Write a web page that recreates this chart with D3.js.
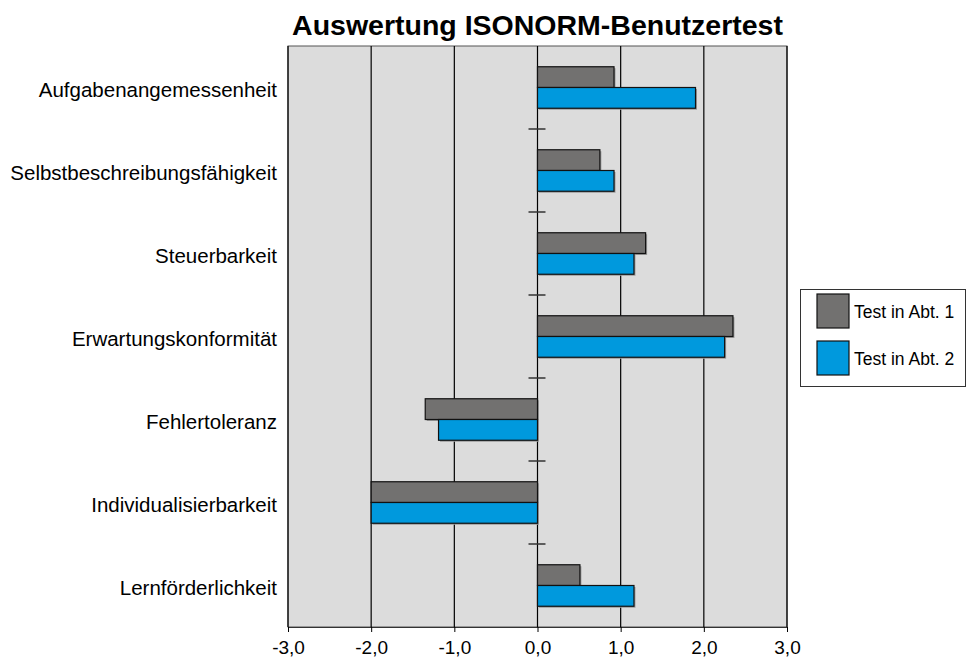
<!DOCTYPE html>
<html><head><meta charset="utf-8">
<script src="https://cdn.jsdelivr.net/npm/d3@7"></script>
<style>body{margin:0;background:#fff;}svg{display:block;font-family:"Liberation Sans",Arial,Helvetica,sans-serif;}</style>
</head><body>
<script>
const categories = ["Aufgabenangemessenheit","Selbstbeschreibungsfähigkeit","Steuerbarkeit","Erwartungskonformität","Fehlertoleranz","Individualisierbarkeit","Lernförderlichkeit"];
const seriesNames = ["Test in Abt. 1","Test in Abt. 2"];
const abt1 = [0.92, 0.75, 1.30, 2.35, -1.35, -2.00, 0.51];
const abt2 = [1.90, 0.92, 1.16, 2.25, -1.19, -2.00, 1.16];
const tickValues = [-3,-2,-1,0,1,2,3];
const colors = ["#727170","#0099dd"];

const W = 968, H = 660;
const m = {left:288, right:181, top:46, bottom:33};
const svg = d3.select("body").append("svg").attr("width",W).attr("height",H);

const x = d3.scaleLinear().domain([-3,3]).range([m.left, W-m.right]);
const y = d3.scaleBand().domain(categories).range([m.top, H-m.bottom]).paddingInner(0.5).paddingOuter(0.25);
const yRow = d3.scaleBand().domain(categories).range([m.top, H-m.bottom]);
const sub = d3.scaleBand().domain([0,1]).range([0, y.bandwidth()]);

// background
svg.append("rect").attr("x",x(-3)).attr("y",m.top).attr("width",x(3)-x(-3)).attr("height",H-m.bottom-m.top)
  .attr("fill","#dcdcdc").attr("stroke","#555").attr("stroke-width",1);

// grid
svg.append("g").selectAll("line").data(tickValues).join("line")
  .attr("x1",d=>x(d)).attr("x2",d=>x(d)).attr("y1",m.top).attr("y2",H-m.bottom)
  .attr("stroke","#000").attr("stroke-width",1.2);

// row separator ticks
svg.append("g").selectAll("line").data(categories.slice(1)).join("line")
  .attr("x1",x(0)-9).attr("x2",x(0)+8).attr("y1",d=>yRow(d)).attr("y2",d=>yRow(d))
  .attr("stroke","#333").attr("stroke-width",1.5);

const data = [];
categories.forEach((c,i)=>{ data.push({c, s:0, v:abt1[i]}); data.push({c, s:1, v:abt2[i]}); });

// shadows
svg.append("g").selectAll("rect").data(data).join("rect")
  .attr("x",d=>Math.min(x(0),x(d.v))+1.5).attr("y",d=>y(d.c)+sub(d.s)+1.5)
  .attr("width",d=>Math.abs(x(d.v)-x(0))).attr("height",sub.bandwidth())
  .attr("fill","#9a9a9a");
// bars
svg.append("g").selectAll("rect").data(data).join("rect")
  .attr("x",d=>Math.min(x(0),x(d.v))).attr("y",d=>y(d.c)+sub(d.s))
  .attr("width",d=>Math.abs(x(d.v)-x(0))).attr("height",sub.bandwidth())
  .attr("fill",d=>colors[d.s]).attr("stroke","#111").attr("stroke-width",1.2);

// x axis
const xAxis = d3.axisBottom(x).tickValues(tickValues)
  .tickFormat(d=>d3.format(".1f")(d).replace(".",",").replace("\u2212","-")).tickSize(5).tickSizeOuter(0);
const gx = svg.append("g").attr("transform",`translate(0,${H-m.bottom})`).call(xAxis);
gx.select(".domain").attr("stroke","#333");
gx.selectAll(".tick line").attr("stroke","#000");
gx.selectAll("text").attr("font-size",19).attr("fill","#000").attr("y",27).attr("dy",null);

// y labels
svg.append("g").selectAll("text").data(categories).join("text")
  .attr("x",277).attr("y",d=>yRow(d)+yRow.bandwidth()/2).attr("dy","0.45em")
  .attr("text-anchor","end").attr("font-size",20.5).text(d=>d);

// title
svg.append("text").attr("x",x(0)).attr("y",35).attr("text-anchor","middle")
  .attr("font-size",28.5).attr("font-weight","bold").text("Auswertung ISONORM-Benutzertest");

// legend
const lg = svg.append("g");
lg.append("rect").attr("x",800.5).attr("y",289.5).attr("width",165).attr("height",97)
  .attr("fill","#fff").attr("stroke","#333").attr("stroke-width",1);
seriesNames.forEach((n,i)=>{
  lg.append("rect").attr("x",817).attr("y",294+i*47).attr("width",32).attr("height",34)
    .attr("fill",colors[i]).attr("stroke","#111").attr("stroke-width",1.2);
  lg.append("text").attr("x",854).attr("y",318+i*47).attr("font-size",17.5).text(n);
});
</script>
</body></html>
